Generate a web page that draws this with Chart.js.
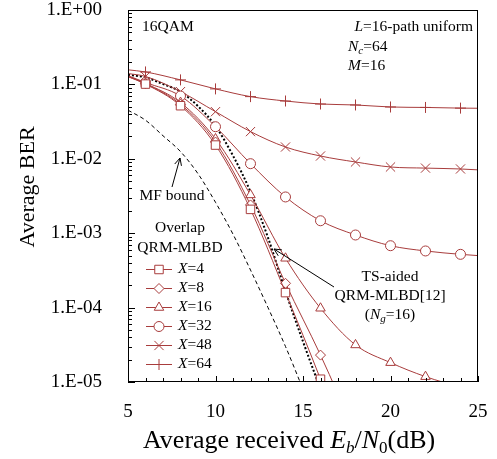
<!DOCTYPE html>
<html>
<head>
<meta charset="utf-8">
<script src="https://cdn.jsdelivr.net/npm/chart.js@4.4.1/dist/chart.umd.min.js"></script>
<style>
  body { margin: 0; background: #fff; }
  #wrap { width: 497px; height: 459px; }
</style>
</head>
<body>
<div id="wrap"><canvas id="berChart"></canvas></div>
<script>
//----------------------
// Data
//----------------------

const xSim = [5, 6, 8, 10, 12, 14, 16, 18, 20, 22, 24, 25];
const berX4 = [0.127, 0.101, 0.0517, 0.0153, 0.00209, 1.59e-4, 1.09e-5, 6.0e-7];
const berX8 = [0.128, 0.102, 0.0540, 0.0168, 0.00240, 2.12e-4, 2.30e-5, 2.0e-6];
const berX16 = [0.129, 0.103, 0.0570, 0.0185, 0.00327, 4.60e-4, 9.80e-5, 3.15e-5, 1.82e-5, 1.18e-5, 8.5e-6];
const berX32 = [0.131, 0.106, 0.0698, 0.0270, 0.00860, 3.07e-3, 1.47e-3, 9.46e-4, 6.79e-4, 5.77e-4, 5.20e-4, 5.0e-4];
const berX48 = [0.140, 0.128, 0.0800, 0.0430, 0.0232, 0.0144, 0.0109, 9.06e-3, 7.76e-3, 7.50e-3, 7.30e-3, 7.1e-3];
const berX64 = [0.157, 0.147, 0.115, 0.0870, 0.0685, 0.0598, 0.0545, 0.0529, 0.0497, 0.0490, 0.0480, 0.0478];

const xTs = [5, 6, 7, 8, 9, 10, 11, 12, 13, 14, 15, 16];
const berTs = [0.135, 0.124, 0.101, 0.0798, 0.051, 0.0275, 0.011, 0.0036, 8.7e-4, 1.66e-4, 3.5e-5, 8e-6];

const xMf = [5, 6, 7, 8, 9, 10, 11, 12, 13, 14, 15];
const berMf = [0.045, 0.033, 0.0204, 0.0125, 0.0063, 0.0026, 9.7e-4, 3.2e-4, 1.0e-4, 3.0e-5, 8e-6];

const xTickLabels = [5, 10, 15, 20, 25];
const seriesNames = ['4', '8', '16', '32', '48', '64'];

const RED = '#A83C3C';
const SERIF = '"Liberation Serif", "Times New Roman", serif';

const markers = [
  { style: 'rect', r: 6 },
  { style: 'rectRot', r: 5 },
  { style: 'triangle', r: 5.5 },
  { style: 'circle', r: 5 },
  { style: 'crossRot', r: 6.5 },
  { style: 'cross', r: 5.5 }
];

function toPoints(xs, ys) {
  return ys.map((y, i) => ({ x: xs[i], y: y }));
}

const simSets = [berX4, berX8, berX16, berX32, berX48, berX64].map((arr, i) => ({
  label: 'X=' + seriesNames[i],
  data: toPoints(xSim, arr),
  borderColor: RED,
  borderWidth: 1,
  backgroundColor: '#fff',
  pointStyle: markers[i].style,
  pointRadius: (c) => (c.raw.x < 6 || c.raw.x > 24 || c.raw.y < 1e-5) ? 0 : markers[i].r,
  pointBorderColor: RED,
  pointBackgroundColor: '#fff',
  pointBorderWidth: 1,
  cubicInterpolationMode: 'monotone'
}));

const refSets = [
  {
    label: 'TS-aided',
    data: toPoints(xTs, berTs),
    borderColor: '#000',
    borderWidth: 2,
    borderDash: [2, 2],
    pointRadius: 0,
    cubicInterpolationMode: 'monotone'
  },
  {
    label: 'MF bound',
    data: toPoints(xMf, berMf),
    borderColor: '#000',
    borderWidth: 1,
    borderDash: [4, 3],
    pointRadius: 0,
    cubicInterpolationMode: 'monotone'
  }
];

//----------------------
// Helpers for mixed-style text
//----------------------

function drawParts(ctx, parts, x, y, align) {
  // parts: [text, size, italic, dy]
  let total = 0;
  parts.forEach(p => {
    ctx.font = (p[2] ? 'italic ' : '') + p[1] + 'px ' + SERIF;
    total += ctx.measureText(p[0]).width;
  });
  let cx = align === 'right' ? x - total : align === 'center' ? x - total / 2 : x;
  ctx.textAlign = 'left';
  parts.forEach(p => {
    ctx.font = (p[2] ? 'italic ' : '') + p[1] + 'px ' + SERIF;
    ctx.fillText(p[0], cx, y + (p[3] || 0));
    cx += ctx.measureText(p[0]).width;
  });
}

function arrow(ctx, x1, y1, x2, y2) {
  const a = Math.atan2(y2 - y1, x2 - x1);
  const len = 8;
  ctx.beginPath();
  ctx.moveTo(x1, y1);
  ctx.lineTo(x2, y2);
  ctx.moveTo(x2 - len * Math.cos(a - 0.45), y2 - len * Math.sin(a - 0.45));
  ctx.lineTo(x2, y2);
  ctx.lineTo(x2 - len * Math.cos(a + 0.45), y2 - len * Math.sin(a + 0.45));
  ctx.stroke();
}

//----------------------
// Frame, inside ticks, notes, legend, titles
//----------------------

const decorPlugin = {
  id: 'decor',
  afterDatasetsDraw(chart) {
    const ctx = chart.ctx;
    const area = chart.chartArea;
    const xs = chart.scales.x;
    const ys = chart.scales.y;
    ctx.save();
    ctx.strokeStyle = '#000';
    ctx.lineWidth = 1;
    ctx.setLineDash([]);

    // box
    ctx.strokeRect(Math.round(area.left) + 0.5, Math.round(area.top) + 0.5,
      Math.round(area.right - area.left) - 1, Math.round(area.bottom - area.top) - 1);

    // inside ticks
    ctx.beginPath();
    for (let v = 5; v <= 25; v++) {
      const px = Math.round(xs.getPixelForValue(v)) + 0.5;
      const len = v % 5 === 0 ? 6 : 4;
      ctx.moveTo(px, area.bottom);
      ctx.lineTo(px, area.bottom - len);
    }
    for (let e = -5; e < 0; e++) {
      for (let m = 1; m < 10; m++) {
        const py = Math.round(ys.getPixelForValue(m * Math.pow(10, e))) + 0.5;
        const len = m === 1 ? 7 : 4;
        ctx.moveTo(area.left, py);
        ctx.lineTo(area.left + len, py);
      }
    }
    ctx.stroke();

    // notes
    ctx.fillStyle = '#000';
    ctx.textBaseline = 'middle';
    drawParts(ctx, [['16QAM', 15.5]], 142, 27, 'left');
    drawParts(ctx, [['L', 15.5, true], ['=16-path uniform', 15.5]], 473, 27, 'right');
    drawParts(ctx, [['N', 15.5, true], ['c', 11, true, 4], ['=64', 15.5]], 348, 47, 'left');
    drawParts(ctx, [['M', 15.5, true], ['=16', 15.5]], 348, 66, 'left');

    drawParts(ctx, [['MF bound', 15.5]], 172, 196, 'center');
    arrow(ctx, 172, 187, 180, 158);

    drawParts(ctx, [['TS-aided', 15.5]], 390, 277, 'center');
    drawParts(ctx, [['QRM-MLBD[12]', 15.5]], 390, 296, 'center');
    drawParts(ctx, [['(', 15.5], ['N', 15.5, true], ['g', 11, true, 4], ['=16)', 15.5]], 390, 315, 'center');
    arrow(ctx, 334, 287, 274, 249);

    // legend
    drawParts(ctx, [['Overlap', 15.5]], 180, 228, 'center');
    drawParts(ctx, [['QRM-MLBD', 15.5]], 180, 248, 'center');
    const rowY = [269, 288, 307, 326, 345, 364];
    simSets.forEach((ds, i) => {
      const y = rowY[i];
      ctx.strokeStyle = RED;
      ctx.beginPath();
      ctx.moveTo(146, y + 0.5);
      ctx.lineTo(172, y + 0.5);
      ctx.stroke();
      ctx.fillStyle = '#fff';
      Chart.helpers.drawPoint(ctx, { pointStyle: markers[i].style, radius: markers[i].r, borderWidth: 1, rotation: 0 }, 159, y + 0.5);
      ctx.fillStyle = '#000';
      drawParts(ctx, [['X', 15.5, true], ['=' + seriesNames[i], 15.5]], 178, y, 'left');
    });

    // axis titles
    ctx.textBaseline = 'alphabetic';
    drawParts(ctx, [['Average received ', 26], ['E', 26, true], ['b', 17, true, 5], ['/', 26],
      ['N', 26, true], ['0', 17, false, 5], ['(dB)', 26]], 143, 448, 'left');
    ctx.translate(34, 187);
    ctx.rotate(-Math.PI / 2);
    drawParts(ctx, [['Average BER', 22]], 0, 0, 'center');
    ctx.restore();
  }
};

//----------------------
// BER chart
//----------------------

const ctx = document.getElementById('berChart').getContext('2d');
const chart = new Chart(ctx, {
  type: 'line',
  data: { datasets: simSets.concat(refSets) },
  options: {
    responsive: true,
    maintainAspectRatio: false,
    animation: false,
    events: [],
    layout: { padding: { top: 10, right: 19, bottom: 0, left: 0 } },
    plugins: { legend: { display: false }, tooltip: { enabled: false } },
    scales: {
      x: {
        type: 'linear',
        min: 5,
        max: 25,
        afterBuildTicks: (s) => { s.ticks = xTickLabels.map(v => ({ value: v })); },
        ticks: { color: '#000', padding: 11, font: { family: SERIF, size: 19 } },
        grid: { display: false },
        border: { display: false },
        afterFit: (s) => { s.height = 77; s.paddingLeft = 0; s.paddingRight = 0; }
      },
      y: {
        type: 'logarithmic',
        min: 1e-5,
        max: 1,
        ticks: {
          autoSkip: false,
          color: '#000',
          padding: 18,
          font: { family: SERIF, size: 19 },
          callback: (v) => {
            const e = Math.log10(v);
            if (Math.abs(e - Math.round(e)) > 1e-6) return '';
            const n = Math.round(e);
            return '1.E' + (n >= 0 ? '+' : '-') + String(Math.abs(n)).padStart(2, '0');
          }
        },
        grid: { display: false },
        border: { display: false },
        afterFit: (s) => { s.width = 128; s.paddingTop = 0; s.paddingBottom = 0; }
      }
    }
  },
  plugins: [decorPlugin]
});
</script>
</body>
</html>
